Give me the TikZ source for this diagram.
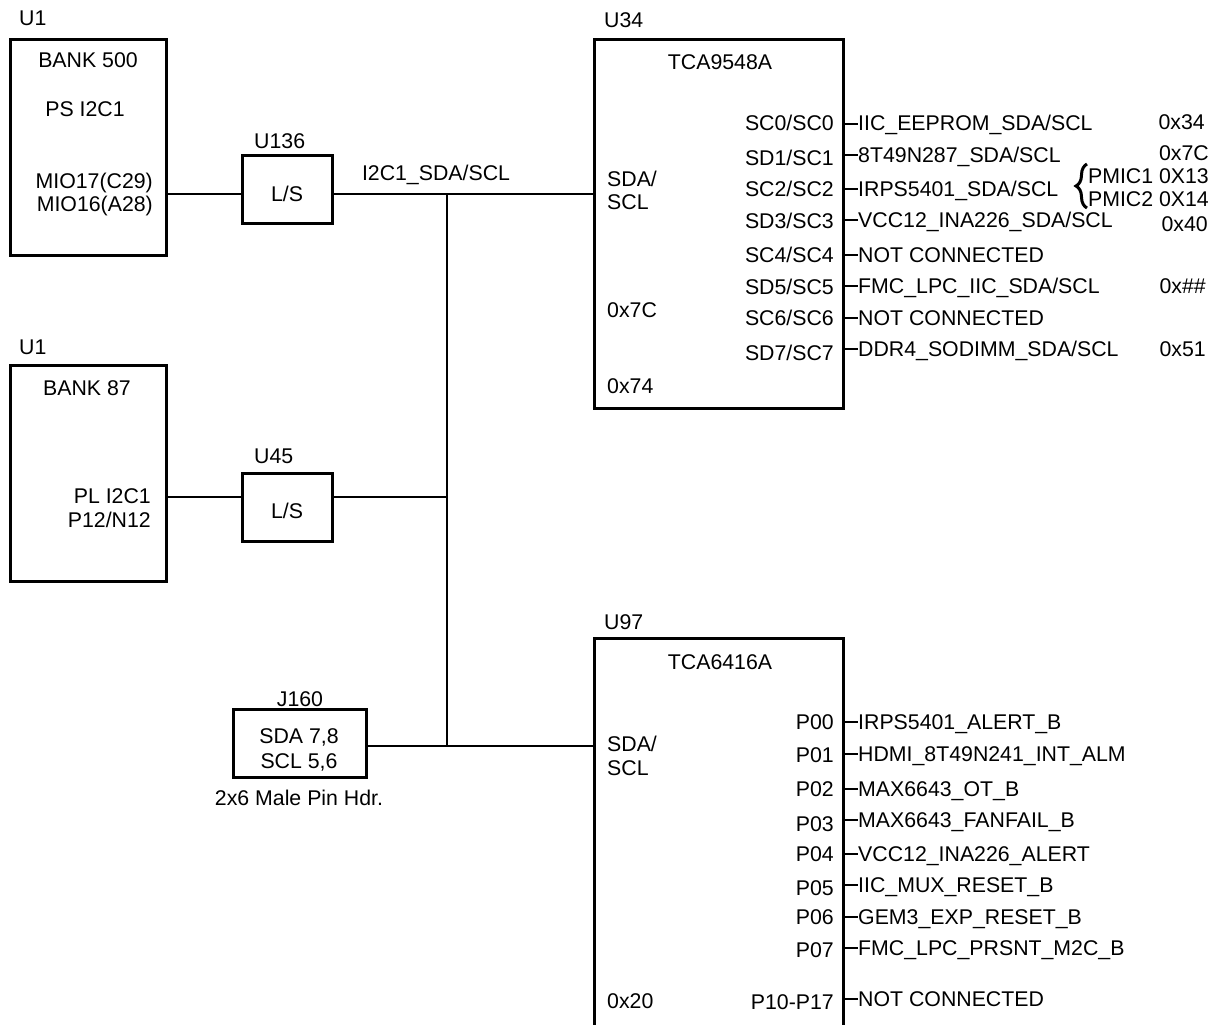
\documentclass[tikz,border=0pt]{standalone}
\usepackage{fontspec}
\setmainfont{Liberation Sans}
\usetikzlibrary{decorations.pathreplacing}
\tikzset{
  box/.style={draw, line width=3pt, inner sep=0pt},
  wire/.style={line width=1.3pt},
  txt/.style={inner sep=0pt, font=\fontsize{21.3}{24}\selectfont},
  pin/.style={txt, anchor=base east},
  net/.style={txt, anchor=base west},
  brc/.style={line width=3pt, decorate, decoration={brace, amplitude=11pt}}
}
\newcommand{\tickto}[2]{\draw[wire] ([yshift=7pt]#2.base west -| #1.east) -- ([yshift=7pt]#2.base west);}
\begin{document}
\begin{tikzpicture}[x=1pt,y=-1pt]
\useasboundingbox (0,0) rectangle (1211,1025);
\clip (0,0) rectangle (1211,1025);
% ---------- U1 bank 500 ----------
\node[box, minimum width=156pt, minimum height=216pt] (u1a) at (88.5,147.5) {};
\node[txt, anchor=base west] (u1alab) at (19,26) {U1};
\node[txt, anchor=base] (bank500) at (88,68) {BANK 500};
\node[txt, anchor=base] (psi2c1) at (85,117) {PS I2C1};
\node[txt, anchor=base east] (mio17) at (153,188) {MIO17(C29)};
\node[txt, anchor=base east] (mio16) at (153,211) {MIO16(A28)};
% ---------- U1 bank 87 ----------
\node[box, minimum width=156pt, minimum height=216pt] (u1b) at (88.5,473.5) {};
\node[txt, anchor=base west] (u1blab) at (19,354) {U1};
\node[txt, anchor=base] (bank87) at (87,395) {BANK 87};
\node[txt, anchor=base east] (pli2c1) at (151,503) {PL I2C1};
\node[txt, anchor=base east] (p12n12) at (151,527) {P12/N12};
% ---------- level shifters ----------
\node[box, minimum width=90pt, minimum height=68pt] (u136) at (287,189) {};
\node[txt, anchor=base west] (u136lab) at (254,148) {U136};
\node[txt, anchor=base] (u136ls) at (287,201) {L/S};
\node[box, minimum width=90pt, minimum height=68pt] (u45) at (287,507) {};
\node[txt, anchor=base west] (u45lab) at (254,463) {U45};
\node[txt, anchor=base] (u45ls) at (287,518) {L/S};
% ---------- J160 ----------
\node[box, minimum width=133pt, minimum height=68pt] (j160) at (299.5,743) {};
\node[txt, anchor=base] (j160lab) at (300,706) {J160};
\node[txt, anchor=base] (j160sda) at (299,743) {SDA 7,8};
\node[txt, anchor=base] (j160scl) at (299,768) {SCL 5,6};
\node[txt, anchor=base] (j160hdr) at (299,805) {2x6 Male Pin Hdr.};
% ---------- bus ----------
\coordinate (bus1) at (447,194);
\coordinate (bus2) at (447,497);
\coordinate (bus3) at (447,746);
\node[txt, anchor=base] (buslab) at (436,180) {I2C1\_SDA/SCL};
% ---------- U34 ----------
\node[box, minimum width=249pt, minimum height=368pt] (u34) at (718.5,224) {};
\node[txt, anchor=base west] (u34lab) at (604,28) {U34};
\node[txt, anchor=base] (u34name) at (720,70) {TCA9548A};
\node[txt, anchor=base west] (u34sda) at (607,186) {SDA/};
\node[txt, anchor=base west] (u34scl) at (607,209) {SCL};
\node[txt, anchor=base west] (u34a1) at (607,317) {0x7C};
\node[txt, anchor=base west] (u34a2) at (607,393) {0x74};
\node[pin] (sp0) at (834,131) {SC0/SC0};
\node[pin] (sp1) at (834,165) {SD1/SC1};
\node[pin] (sp2) at (834,196) {SC2/SC2};
\node[pin] (sp3) at (834,228) {SD3/SC3};
\node[pin] (sp4) at (834,262) {SC4/SC4};
\node[pin] (sp5) at (834,294) {SD5/SC5};
\node[pin] (sp6) at (834,325) {SC6/SC6};
\node[pin] (sp7) at (834,360) {SD7/SC7};
\node[net] (sn0) at (858,131) {IIC\_EEPROM\_SDA/SCL};
\node[net] (sn1) at (858,162) {8T49N287\_SDA/SCL};
\node[net] (sn2) at (858,196) {IRPS5401\_SDA/SCL};
\node[net] (sn3) at (858,227) {VCC12\_INA226\_SDA/SCL};
\node[net] (sn4) at (858,262) {NOT CONNECTED};
\node[net] (sn5) at (858,293) {FMC\_LPC\_IIC\_SDA/SCL};
\node[net] (sn6) at (858,325) {NOT CONNECTED};
\node[net] (sn7) at (858,356) {DDR4\_SODIMM\_SDA/SCL};
\foreach \i in {0,...,7} {\tickto{u34}{sn\i}}
\node[pin] (ad0) at (1205,129) {0x34};
\node[pin] (ad1) at (1209,160) {0x7C};
\node[pin] (ad2) at (1209,183) {PMIC1 0X13};
\node[pin] (ad3) at (1209,206) {PMIC2 0X14};
\node[pin] (ad4) at (1208,231) {0x40};
\node[pin] (ad5) at (1206,293) {0x\#\#};
\node[pin] (ad6) at (1206,356) {0x51};
\coordinate (brtop) at (1087,164);
\coordinate (brbot) at (1087,208);
\draw[brc] (brbot) -- (brtop);
% ---------- U97 ----------
\node[box, minimum width=249pt, minimum height=410pt] (u97) at (718.5,843) {};
\node[txt, anchor=base west] (u97lab) at (604,629) {U97};
\node[txt, anchor=base] (u97name) at (720,669) {TCA6416A};
\node[txt, anchor=base west] (u97sda) at (607,751) {SDA/};
\node[txt, anchor=base west] (u97scl) at (607,775) {SCL};
\node[txt, anchor=base west] (u97a) at (607,1008) {0x20};
\node[pin] (pp0) at (834,729) {P00};
\node[pin] (pp1) at (834,762) {P01};
\node[pin] (pp2) at (834,796) {P02};
\node[pin] (pp3) at (834,831) {P03};
\node[pin] (pp4) at (834,861) {P04};
\node[pin] (pp5) at (834,895) {P05};
\node[pin] (pp6) at (834,924) {P06};
\node[pin] (pp7) at (834,957) {P07};
\node[pin] (pp8) at (834,1009) {P10-P17};
\node[net] (pn0) at (858,729) {IRPS5401\_ALERT\_B};
\node[net] (pn1) at (858,761) {HDMI\_8T49N241\_INT\_ALM};
\node[net] (pn2) at (858,796) {MAX6643\_OT\_B};
\node[net] (pn3) at (858,827) {MAX6643\_FANFAIL\_B};
\node[net] (pn4) at (858,861) {VCC12\_INA226\_ALERT};
\node[net] (pn5) at (858,892) {IIC\_MUX\_RESET\_B};
\node[net] (pn6) at (858,924) {GEM3\_EXP\_RESET\_B};
\node[net] (pn7) at (858,955) {FMC\_LPC\_PRSNT\_M2C\_B};
\node[net] (pn8) at (858,1006) {NOT CONNECTED};
\foreach \i in {0,...,8} {\tickto{u97}{pn\i}}
% ---------- connectors ----------
\draw[wire] (u1a.east |- bus1) -- (u136.west |- bus1);
\draw[wire] (u136.east |- bus1) -- (u34.west |- bus1);
\draw[wire] (u1b.east |- bus2) -- (u45.west |- bus2);
\draw[wire] (u45.east |- bus2) -- (bus2);
\draw[wire] (j160.east |- bus3) -- (u97.west |- bus3);
\draw[wire] (bus1) -- (bus3);
\end{tikzpicture}
\end{document}
